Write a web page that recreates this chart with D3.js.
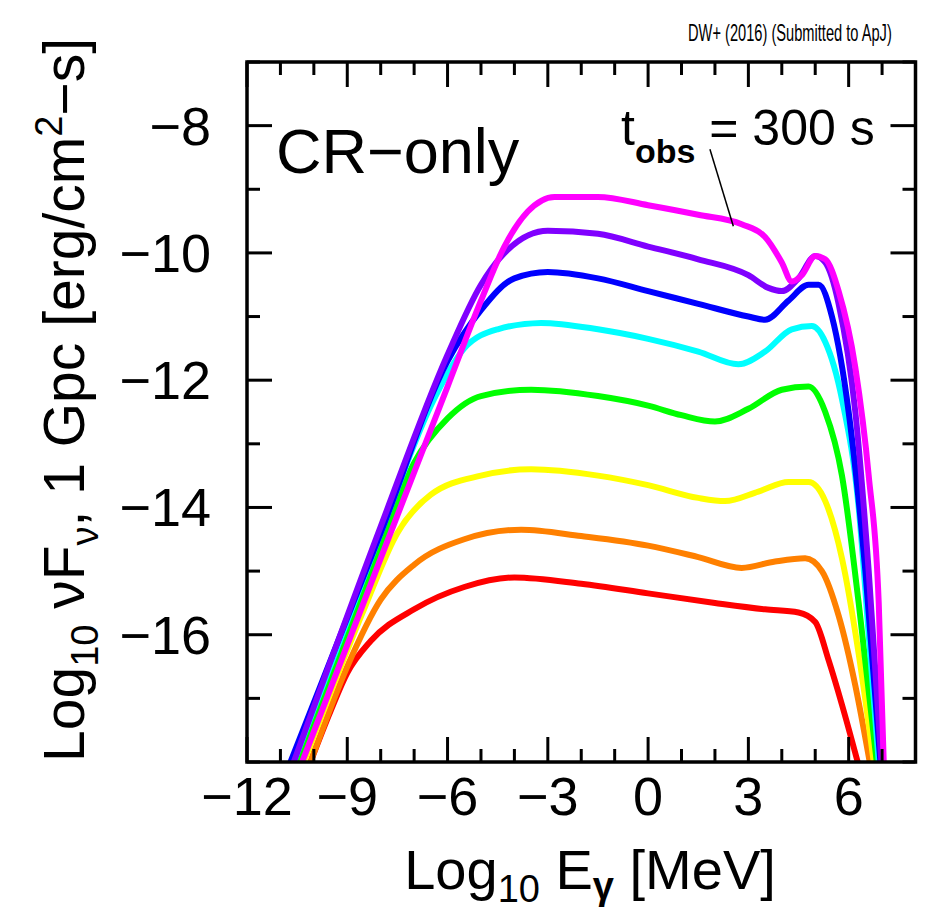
<!DOCTYPE html>
<html>
<head>
<meta charset="utf-8">
<script src="https://cdn.jsdelivr.net/npm/d3@7"></script>
<style>
  body { margin: 0; background: #fff; }
  svg { display: block; }
  text { font-family: "Liberation Sans", Arial, sans-serif; fill: #000; }
</style>
</head>
<body>
<script>
// x: log10 E_gamma [MeV], y: log10 nuF_nu at 1 Gpc
var xMajor = [-12, -9, -6, -3, 0, 3, 6];
var yMajor = [-8, -10, -12, -14, -16];
var xMinor = d3.range(-12, 9, 1);
var yMinor = d3.range(-18, -6, 1);

var seriesNames = ['red', 'orange', 'yellow', 'green', 'cyan', 'blue', 'violet', 'magenta'];
var seriesColors = ['#ff0000', '#ff8000', '#ffff00', '#00ff00', '#00ffff', '#0000ff', '#8000ff', '#ff00ff'];

var red = [[-10.1,-18],[-9.5,-17.2],[-9,-16.6],[-8.3,-16.1],[-7,-15.6],[-5.5,-15.25],[-4,-15.1],[-2,-15.2],[0,-15.35],[2,-15.5],[3.5,-15.6],[4.5,-15.65],[5.0,-15.8],[5.4,-16.4],[5.8,-17.1],[6.27,-18]];
var orange = [[-10.1,-18],[-9,-16.5],[-8,-15.45],[-7,-14.9],[-5.5,-14.5],[-3.8,-14.35],[-2,-14.45],[0,-14.6],[1.5,-14.78],[2.8,-14.95],[3.8,-14.85],[4.7,-14.8],[5.2,-15.0],[5.7,-15.7],[6.2,-16.8],[6.63,-18]];
var yellow = [[-10.3,-18],[-8.5,-15.6],[-7.5,-14.4],[-6.5,-13.8],[-5,-13.5],[-3.5,-13.4],[-1.5,-13.5],[0,-13.65],[1.5,-13.85],[2.3,-13.9],[3.3,-13.75],[4.2,-13.6],[4.8,-13.6],[5.3,-13.9],[5.8,-14.8],[6.3,-16.3],[6.75,-18]];
var green = [[-10.45,-18],[-8,-14.6],[-7,-13.3],[-6,-12.6],[-5,-12.25],[-3.5,-12.15],[-1.5,-12.25],[0,-12.4],[1,-12.55],[2,-12.65],[3,-12.45],[4,-12.15],[4.8,-12.1],[5.3,-12.5],[5.8,-13.5],[6.3,-15.5],[6.84,-18]];
var cyan = [[-10.6,-18],[-8,-14.4],[-6.5,-12.4],[-5.5,-11.5],[-4.5,-11.2],[-3.2,-11.1],[-1.5,-11.2],[0,-11.35],[1.5,-11.55],[2.7,-11.75],[3.5,-11.55],[4.3,-11.2],[4.9,-11.15],[5.3,-11.4],[5.8,-12.3],[6.3,-14],[6.6,-16],[6.9,-18]];
var blue = [[-10.7,-18],[-8,-14.4],[-6,-11.7],[-5,-10.9],[-4,-10.4],[-3,-10.3],[-1.5,-10.4],[0,-10.6],[1.5,-10.8],[3,-11],[3.5,-11.05],[4.2,-10.75],[4.8,-10.5],[5.1,-10.5],[5.5,-11],[6,-12.5],[6.5,-15],[6.95,-18]];
var violet = [[-10.6,-18],[-8,-14.3],[-6,-11.6],[-5,-10.5],[-4.2,-9.95],[-3,-9.65],[-1.5,-9.7],[0,-9.9],[1.5,-10.1],[3,-10.35],[3.6,-10.55],[4.0,-10.6],[4.5,-10.4],[5.0,-10.05],[5.3,-10.15],[5.7,-10.8],[6.2,-12.5],[6.6,-15],[6.98,-18]];
var magenta = [[-10.35,-18],[-8,-14.8],[-6,-12.1],[-5,-10.75],[-4.3,-9.9],[-3.6,-9.35],[-2.8,-9.12],[-1.5,-9.12],[0,-9.25],[1.5,-9.4],[2.8,-9.55],[3.5,-9.75],[4.0,-10.15],[4.3,-10.45],[4.6,-10.35],[5.0,-10.05],[5.3,-10.1],[5.7,-10.6],[6.2,-11.8],[6.6,-13.5],[6.9,-15.5],[7.05,-18]];
var allSeries = [red, orange, yellow, green, cyan, blue, violet, magenta];

var W = 927, H = 913;
var svg = d3.select('body').append('svg').attr('width', W).attr('height', H);

var x = d3.scaleLinear().domain([-12, 8]).range([247, 915.5]);
var y = d3.scaleLinear().domain([-18, -7]).range([762, 62]);

// curves, clipped to the frame
svg.append('clipPath').attr('id', 'plotclip')
  .append('rect').attr('x', x(-12)).attr('y', y(-7))
  .attr('width', x(8) - x(-12)).attr('height', y(-18) - y(-7));

var line = d3.line().x(d => x(d[0])).y(d => y(d[1])).curve(d3.curveMonotoneX);

var curveGroup = svg.append('g').attr('clip-path', 'url(#plotclip)');
curveGroup.selectAll('path.sed')
  .data(allSeries)
  .enter()
  .append('path')
    .attr('class', (d, i) => 'sed ' + seriesNames[i])
    .attr('fill', 'none')
    .attr('stroke', (d, i) => seriesColors[i])
    .attr('stroke-width', 6)
    .attr('stroke-linejoin', 'round')
    .attr('d', line);

// frame and ticks on all four sides
var ax = svg.append('g').attr('stroke', '#000').attr('stroke-width', 3);
ax.append('rect').attr('x', x(-12)).attr('y', y(-7))
  .attr('width', x(8) - x(-12)).attr('height', y(-18) - y(-7))
  .attr('fill', 'none').attr('stroke-width', 3.5);

xMinor.forEach(function(v) {
  var len = xMajor.indexOf(v) >= 0 ? 25 : 13;
  ax.append('line').attr('x1', x(v)).attr('x2', x(v)).attr('y1', y(-18)).attr('y2', y(-18) - len);
  ax.append('line').attr('x1', x(v)).attr('x2', x(v)).attr('y1', y(-7)).attr('y2', y(-7) + len);
});
yMinor.forEach(function(v) {
  var len = yMajor.indexOf(v) >= 0 ? 25 : 13;
  ax.append('line').attr('y1', y(v)).attr('y2', y(v)).attr('x1', x(-12)).attr('x2', x(-12) + len);
  ax.append('line').attr('y1', y(v)).attr('y2', y(v)).attr('x1', x(8)).attr('x2', x(8) - len);
});

// tick labels
svg.selectAll('text.xt').data(xMajor).enter().append('text')
  .attr('class', 'xt')
  .attr('x', d => x(d)).attr('y', y(-18) + 53)
  .attr('text-anchor', 'middle').attr('font-size', 54)
  .text(d => d < 0 ? '\u2212' + Math.abs(d) : d);

svg.selectAll('text.yt').data(yMajor).enter().append('text')
  .attr('class', 'yt')
  .attr('x', x(-12) - 36).attr('y', d => y(d) + 19)
  .attr('text-anchor', 'end').attr('font-size', 54)
  .text(d => '\u2212' + Math.abs(d));

// axis titles
var xt = svg.append('text').attr('x', 590).attr('y', 889)
  .attr('text-anchor', 'middle').attr('font-size', 56);
xt.append('tspan').text('Log');
xt.append('tspan').attr('font-size', 38).attr('dy', 13).text('10');
xt.append('tspan').attr('dy', -13).text(' E');
xt.append('tspan').attr('font-size', 38).attr('dy', 10).attr('font-weight', 'bold').text('\u03b3');
xt.append('tspan').attr('dy', -10).text(' [MeV]');

var yt = svg.append('text').attr('transform', 'translate(84,' + 400 + ') rotate(-90)')
  .attr('text-anchor', 'middle').attr('font-size', 57);
yt.append('tspan').text('Log');
yt.append('tspan').attr('font-size', 38).attr('dy', 14).text('10');
yt.append('tspan').attr('dy', -14).text(' \u03bdF');
yt.append('tspan').attr('font-size', 38).attr('dy', 14).text('\u03bd');
yt.append('tspan').attr('dy', -14).text(',  1  Gpc  [erg/cm');
yt.append('tspan').attr('font-size', 38).attr('dy', -22).text('2');
yt.append('tspan').attr('dy', 22).text('\u2212s]');

// panel label
svg.append('text').attr('x', 276).attr('y', y(-8.75))
  .attr('font-size', 63).text('CR\u2212only');

// t_obs annotation
var ta = svg.append('text').attr('x', 621).attr('y', 145).attr('font-size', 50);
ta.append('tspan').text('t');
ta.append('tspan').attr('font-size', 34).attr('font-weight', 'bold').attr('dy', 18).text('obs');
ta.append('tspan').attr('dy', -18).text(' = 300 s');
svg.append('line')
  .attr('x1', x(1.85)).attr('y1', y(-8.37))
  .attr('x2', x(2.55)).attr('y2', y(-9.58))
  .attr('stroke', '#000').attr('stroke-width', 1.5);

// header note, squeezed horizontally to the width it has in the figure
var note = svg.append('g').attr('transform', 'translate(688,41)');
var noteText = note.append('text').attr('x', 0).attr('y', 0)
  .attr('font-family', 'Lato, "Open Sans", sans-serif')
  .attr('font-size', 23)
  .text('DW+ (2016) (Submitted to ApJ)');
var natural = noteText.node().getComputedTextLength();
note.attr('transform', 'translate(688,41) scale(' + (204 / natural) + ',1)');
</script>
</body>
</html>
